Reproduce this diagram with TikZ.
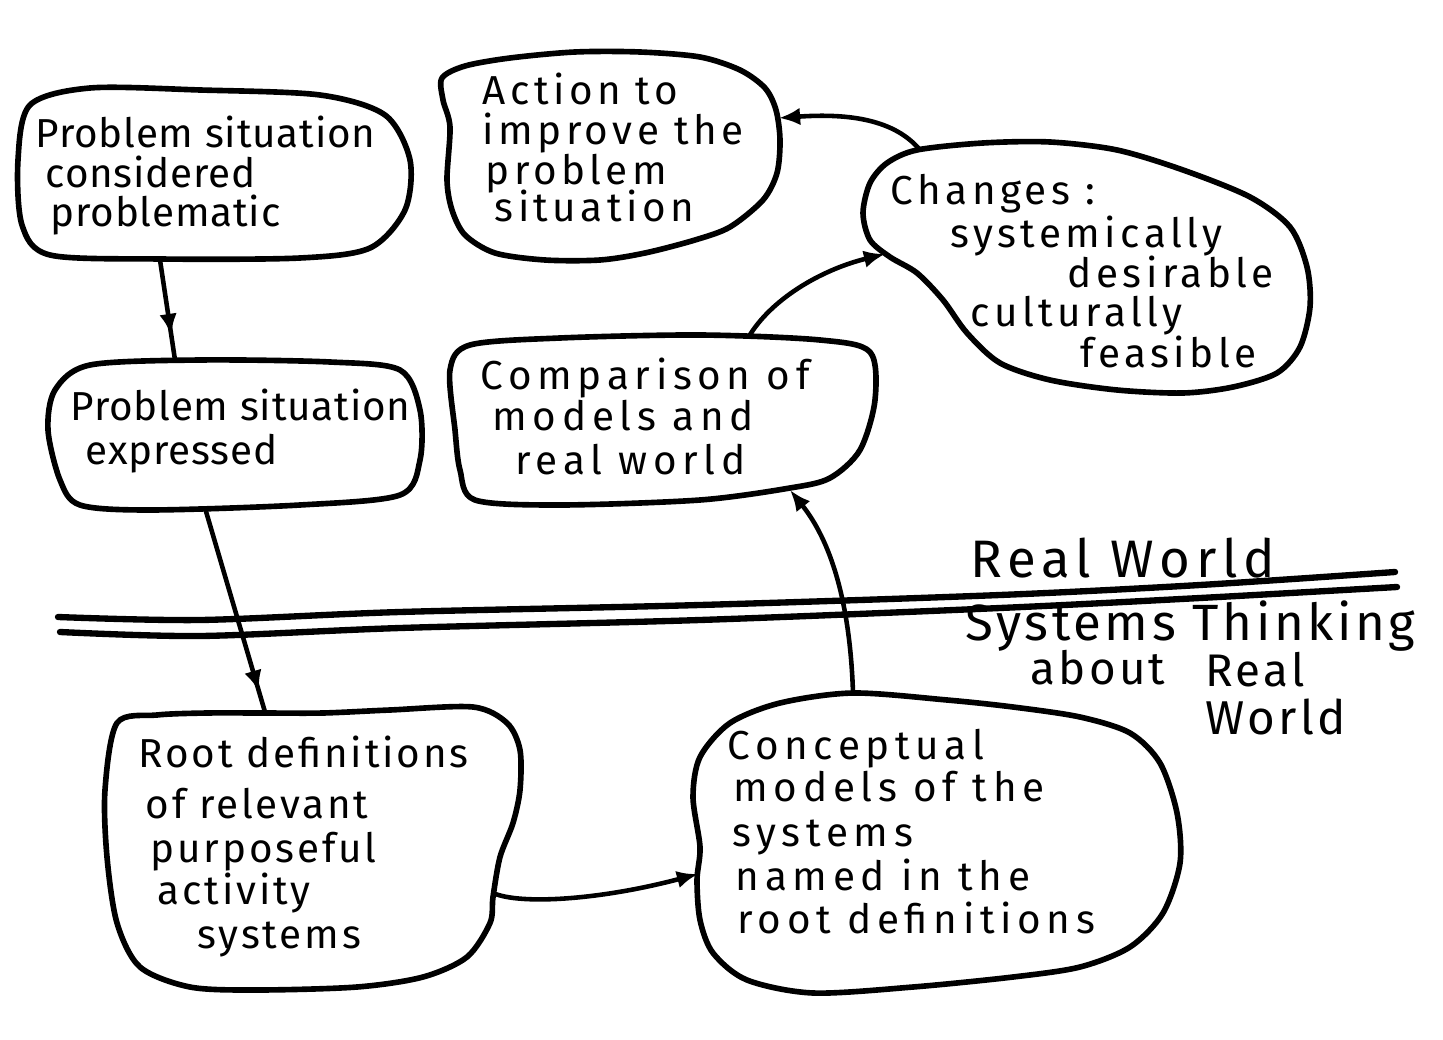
\documentclass[tikz,border=0pt]{standalone}
\usepackage{fontspec}
\setmainfont{Fira Sans}
\newfontfamily\handN[LetterSpace=2]{Fira Sans}
\newfontfamily\handM[LetterSpace=7]{Fira Sans}
\newfontfamily\handW[LetterSpace=11]{Fira Sans}
\newfontfamily\handX[LetterSpace=14]{Fira Sans}
\usepackage{tikz}
\usetikzlibrary{arrows.meta,decorations.markings}
\lineskiplimit=-100pt

\tikzset{
  blob/.style={line width=1.6pt,line join=round},
  link/.style={line width=1.3pt},
  txt/.style={anchor=north west,align=left,inner sep=0pt,font=#1\fontsize{11.5}{10}\selectfont},
  lbl/.style={anchor=base west,inner sep=0pt,font=\handM\fontsize{#1}{#1}\selectfont},
  tip/.style={-{Latex[length=6pt,width=5pt]}},
  midtip/.style={postaction={decorate},decoration={markings,mark=at position #1 with {\arrow{Latex[length=6pt,width=5pt]}}}},
}

\begin{document}
\begin{tikzpicture}[x=0.01cm,y=-0.01cm]
  \useasboundingbox (0,0) rectangle (1443,1040);
  % 輪郭
  \draw[blob] plot[smooth cycle] coordinates {(30,105) (90,88) (200,90) (320,95) (385,115) (410,160) (405,210) (370,248) (300,258) (160,259) (50,255) (22,225) (18,160)}; % 問題状況
  \draw[blob] plot[smooth cycle] coordinates {(442,78) (443,100) (450,127) (447,180) (452,210) (465,235) (495,253) (545,260) (600,260) (645,253) (695,240) (730,227) (763,200) (777,173) (780,140) (776,110) (765,88) (740,70) (700,57) (640,52) (575,52) (510,58) (465,66)}; % 改善行動
  \draw[blob] plot[smooth cycle] coordinates {(870,183) (887,163) (917,150) (983,143) (1050,142) (1117,150) (1183,170) (1250,197) (1290,227) (1307,267) (1310,307) (1300,347) (1277,373) (1233,387) (1183,393) (1117,390) (1050,380) (1000,363) (967,333) (943,300) (917,273) (890,257) (870,240) (863,213)}; % 変化
  \draw[blob] plot[smooth cycle] coordinates {(55,390) (90,365) (200,360) (330,362) (400,370) (420,410) (420,460) (400,495) (300,505) (150,510) (80,505) (60,480) (48,430)}; % 表現
  \draw[blob] plot[smooth cycle] coordinates {(450,370) (470,345) (560,338) (700,335) (820,340) (870,352) (875,400) (860,450) (830,478) (790,488) (700,500) (560,505) (475,500) (460,470) (455,430)}; % 比較
  \draw[blob] plot[smooth cycle] coordinates {(117,723) (157,715) (207,713) (263,713) (323,713) (390,710) (473,707) (507,723) (520,750) (520,790) (513,823) (500,857) (493,897) (490,923) (467,957) (423,977) (357,987) (257,990) (190,987) (140,967) (117,923) (107,857) (105,790)}; % 根底定義
  \draw[blob] plot[smooth cycle] coordinates {(853,693) (780,703) (730,723) (700,757) (693,797) (700,847) (697,880) (700,920) (713,953) (747,980) (813,993) (913,987) (1013,977) (1080,967) (1130,947) (1163,913) (1180,863) (1177,813) (1160,763) (1130,733) (1080,717) (1013,707) (947,700)}; % 概念モデル
  % 境界線
  \draw[line width=1.8pt,line cap=round] plot[smooth] coordinates {(58,617) (200,620) (400,612) (700,605) (1000,595) (1200,585) (1395,572)}; % 上の線
  \draw[line width=1.8pt,line cap=round] plot[smooth] coordinates {(60,632) (200,636) (400,628) (700,620) (1000,608) (1200,598) (1397,587)}; % 下の線
  % テキスト
  \node[txt=\handN] (prob) at (35,115) {Problem situation\\[1.5pt]\hspace*{1mm}considered\\[1pt]\hspace*{1.5mm}problematic};
  \node[txt=\handW] (action) at (482,72) {Action to\\[1.5pt]improve the\\[1.2pt]\hspace*{0.3mm}problem\\[0.7pt]\hspace*{1.2mm}situation};
  \node[txt=\handW] (changes) at (890,174) {Changes :\\[2pt]\hspace*{6mm}systemically\\[1.5pt]\hspace*{17.7mm}desirable\\[1.2pt]\hspace*{8mm}culturally\\[1.5pt]\hspace*{19mm}feasible};
  \node[txt=\handN] (expr) at (70,388) {Problem situation\\[2.7pt]\hspace*{1.5mm}expressed};
  \node[txt=\handX] (comp) at (480,357) {Comparison of\\[1.8pt]\hspace*{1.2mm}models and\\[2.4pt]\hspace*{3.5mm}real world};
  \node[txt=\handM] (root) at (138,735) {Root definitions\\[4.5pt]\hspace*{0.7mm}of relevant\\[2.5pt]\hspace*{1.2mm}purposeful\\[2pt]\hspace*{1.9mm}activity\\[2.5pt]\hspace*{5.9mm}systems};
  \node[txt=\handX] (concept) at (727,728) {Conceptual\\[2.2pt]\hspace*{0.6mm}models of the\\[2.8pt]\hspace*{0.5mm}systems\\[2.5pt]\hspace*{0.8mm}named in the\\[2.2pt]\hspace*{1mm}root definitions};
  \node[lbl=15,font=\handW\fontsize{15}{15}\selectfont] (rw) at (970,577) {Real World};
  \node[lbl=14.5] (st) at (965,640) {Systems Thinking};
  \node[lbl=13] (ab) at (1030,684) {about};
  \node[lbl=13] (rl) at (1205,686) {Real};
  \node[lbl=13.5] (wd) at (1205,734) {World};
  % 接続点
  \coordinate (probS) at (160,260);
  \coordinate (exprN) at (175,360);
  \coordinate (exprS) at (205,508);
  \coordinate (rootN) at (265,712);
  \coordinate (rootE) at (493,893);
  \coordinate (conW) at (698,874);
  \coordinate (conN) at (853,693);
  \coordinate (compS) at (790,490);
  \coordinate (compN) at (748,338);
  \coordinate (chgW) at (885,254);
  \coordinate (chgN) at (920,150);
  \coordinate (actE) at (779,118);
  % 矢印
  \draw[link,midtip=0.75] (probS) -- (exprN); % 問題状況→表現
  \draw[link,midtip=0.9] (exprS) -- (rootN); % 表現→根底定義
  \draw[link,tip] (rootE) .. controls (520,905) and (600,900) .. (conW); % 根底定義→概念モデル
  \draw[link,tip] (conN) .. controls (850,600) and (830,540) .. (compS); % 概念モデル→比較
  \draw[link,tip] (compN) .. controls (770,300) and (820,270) .. (chgW); % 比較→変化
  \draw[link,tip] (chgN) .. controls (895,120) and (850,113) .. (actE); % 変化→改善行動
\end{tikzpicture}
\end{document}
